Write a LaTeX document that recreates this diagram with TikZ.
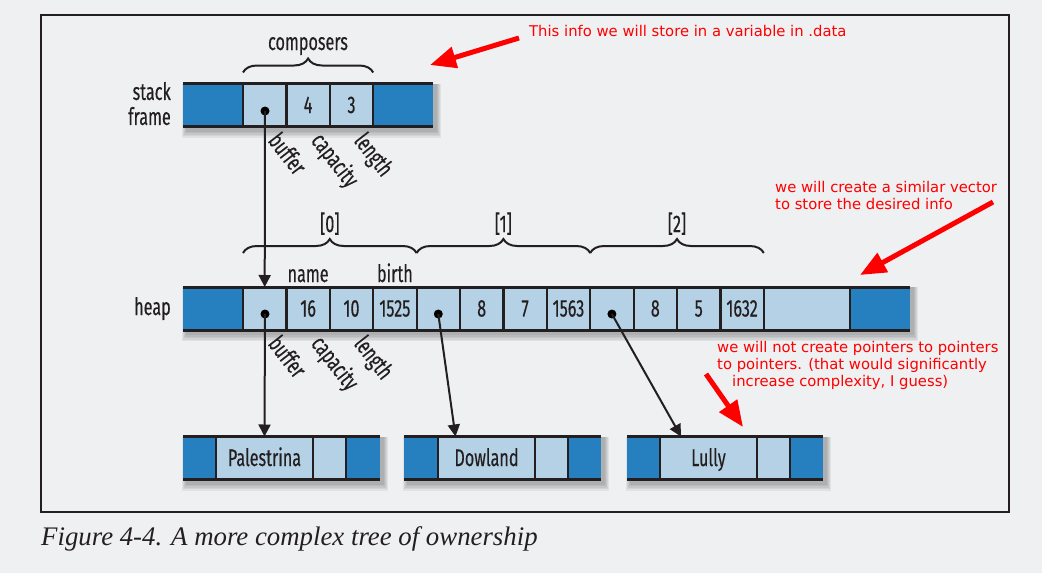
\documentclass[tikz,border=0pt]{standalone}
\usepackage{fontspec}
\usetikzlibrary{arrows.meta,decorations.pathreplacing,calc}
\newfontfamily\dfont[FakeStretch=0.675,FakeBold=0.35]{Fira Sans}
\newfontfamily\nfont{DejaVu Sans}
\newfontfamily\cfont{Liberation Serif}
\definecolor{dkblue}{RGB}{38,128,192}
\definecolor{ltblue}{RGB}{181,209,229}
\definecolor{ink}{RGB}{35,31,32}
\definecolor{bgc}{RGB}{239,240,242}
\definecolor{notered}{RGB}{255,0,0}
\pgfdeclarelayer{back}\pgfdeclarelayer{shade}
\pgfsetlayers{back,shade,main}
\tikzset{
 cellbase/.style={inner sep=0pt, outer sep=0pt, minimum height=43pt, text=ink, text height=16pt, text depth=0pt, font=\dfont\fontsize{24}{24}\selectfont},
 dk/.style={cellbase, fill=dkblue},
 lt/.style={cellbase, fill=ltblue},
 divline/.style={draw=ink, line width=2.2pt},
 edgeline/.style={draw=ink, line width=3pt},
 ptdot/.style={circle, fill=black, minimum size=9pt, inner sep=0pt},
 ptr/.style={draw=ink, line width=2pt, -{Triangle[width=12pt,length=12pt]}},
 brc/.style={draw=ink, line width=2pt, decorate, decoration={brace, amplitude=14pt}},
 lbl/.style={text=ink, font=\dfont\fontsize{24}{25}\selectfont, inner sep=0pt},
 rot/.style={lbl, rotate=-52, anchor=base west},
 notetext/.style={text=notered, font=\nfont\fontsize{14.8}{17}\selectfont, inner sep=0pt, align=left},
 redarrow/.style={draw=notered, line width=5pt, -{Triangle[length=26pt,width=21pt]}},
}
\begin{document}
\begin{tikzpicture}[x=1pt,y=-1pt]
\begin{pgfonlayer}{back}
\fill[bgc] (0,0) rectangle (1042,573);
\end{pgfonlayer}
\useasboundingbox (0,0) rectangle (1042,573);
\draw[ink, line width=1.5pt] (41,15) rectangle (1009,512);

% stack frame row
\node[dk, minimum width=60pt, anchor=west] (sd0) at (183,105) {};
\node[lt, minimum width=43.4pt, anchor=west] (sb) at (sd0.east) {};
\node[lt, minimum width=43.4pt, anchor=west] (scap) at (sb.east) {4};
\node[lt, minimum width=43.4pt, anchor=west] (slen) at (scap.east) {3};
\node[dk, minimum width=60pt, anchor=west] (sd1) at (slen.east) {};
\foreach \n in {sb,scap,slen,sd1} \draw[divline] (\n.north west) -- (\n.south west);
\draw[edgeline] (sd0.north west) -- (sd1.north east);
\draw[edgeline] (sd0.south west) -- (sd1.south east);

% heap row
\node[dk, minimum width=60pt, anchor=west] (hd0) at (183,308.5) {};
\foreach \i/\t in {0/,1/16,2/10,3/1525,4/,5/8,6/7,7/1563,8/,9/8,10/5,11/1632}
  \node[lt, minimum width=43.4pt] (h\i) at ({264.7+43.4*\i},308.5) {\t};
\node[lt, minimum width=86.2pt, anchor=west] (h12) at (h11.east) {};
\node[dk, minimum width=60pt, anchor=west] (hd1) at (h12.east) {};
\foreach \n in {h0,h1,h2,h3,h4,h5,h6,h7,h8,h9,h10,h11,h12,hd1} \draw[divline] (\n.north west) -- (\n.south west);
\draw[edgeline] (hd0.north west) -- (hd1.north east);
\draw[edgeline] (hd0.south west) -- (hd1.south east);

% string rows
\node[dk, minimum width=33pt, anchor=west] (pd0) at (183,458) {};
\node[lt, minimum width=97pt, anchor=west] (pn) at (pd0.east) {Palestrina};
\node[lt, minimum width=33pt, anchor=west] (pl) at (pn.east) {};
\node[dk, minimum width=34pt, anchor=west] (pd1) at (pl.east) {};
\node[dk, minimum width=34pt, anchor=west] (dd0) at (404,458) {};
\node[lt, minimum width=97pt, anchor=west] (dn) at (dd0.east) {Dowland};
\node[lt, minimum width=33pt, anchor=west] (dl) at (dn.east) {};
\node[dk, minimum width=33pt, anchor=west] (dd1) at (dl.east) {};
\node[dk, minimum width=33pt, anchor=west] (ld0) at (627,458) {};
\node[lt, minimum width=97pt, anchor=west] (ln) at (ld0.east) {Lully};
\node[lt, minimum width=33pt, anchor=west] (ll) at (ln.east) {};
\node[dk, minimum width=33pt, anchor=west] (ld1) at (ll.east) {};
\foreach \a/\b/\c/\d in {pd0/pn/pl/pd1, dd0/dn/dl/dd1, ld0/ln/ll/ld1} {
  \foreach \n in {\b,\c,\d} \draw[divline] (\n.north west) -- (\n.south west);
  \draw[edgeline] (\a.north west) -- (\d.north east);
  \draw[edgeline] (\a.south west) -- (\d.south east);
}

% shadows
\begin{pgfonlayer}{shade}
\foreach \a/\b in {sd0/sd1, hd0/hd1, pd0/pd1, dd0/dd1, ld0/ld1} {
  \foreach \k in {0,...,4} {
    \fill[black, opacity=0.06] ([xshift={(3-\k)*1pt}]\a.north west) rectangle ([xshift={(4+\k)*1pt}, yshift={-(5+\k*1.5)*1pt}]\b.south east);
  }
}
\end{pgfonlayer}

% labels
\node[lbl, align=right, anchor=east] (stk) at (171,103.6) {stack\\frame};
\node[lbl, anchor=base east] (hp) at (171,315) {heap};
\draw[brc] ([yshift=11pt]sb.north west) -- ([yshift=11pt]slen.north east);
\node[lbl, anchor=base] (comp) at (308,50) {composers};
\draw[brc] ([yshift=34pt]h0.north west) -- ([yshift=34pt]h3.north east);
\draw[brc] ([yshift=34pt]h4.north west) -- ([yshift=34pt]h7.north east);
\draw[brc] ([yshift=34pt]h8.north west) -- ([yshift=34pt]h11.north east);
\node[lbl, anchor=base] (i0) at (329.8,232) {[0]};
\node[lbl, anchor=base] (i1) at (503.4,232) {[1]};
\node[lbl, anchor=base] (i2) at (677,232) {[2]};
\node[lbl, anchor=base] (nm) at (h1.center |- 0,282) {name};
\node[lbl, anchor=base] (br) at (h3.center |- 0,282) {birth};
\node[rot] (sbuf) at (267,141) {buffer};
\node[rot] (scp) at (310,141) {capacity};
\node[rot] (sln) at (353,141) {length};
\node[rot] (hbuf) at (267,344) {buffer};
\node[rot] (hcp) at (310,344) {capacity};
\node[rot] (hln) at (353,344) {length};

% pointers
\node[ptdot] (sdot) at (265,111) {};
\node[ptdot] (hdot0) at (265,314) {};
\node[ptdot] (hdot1) at (438.3,314) {};
\node[ptdot] (hdot2) at (611.9,314) {};
\draw[ptr] (sdot.center) -- (h0.north);
\draw[ptr] (hdot0.center) -- (pn.north);
\draw[ptr] (hdot1.center) -- ([xshift=-31pt]dn.north);
\draw[ptr] (hdot2.center) -- ([xshift=-27.5pt]ln.north);

% red notes
\node[notetext, anchor=west] (n1) at (529,31) {This info we will store in a variable in .data};
\node[notetext, anchor=west] (n2) at (775,195) {we will create a similar vector\\to store the desired info};
\node[notetext, anchor=west] (n3) at (717,365) {we will not create pointers to pointers\\to pointers. (that would significantly\\\hspace*{15pt}increase complexity, I guess)};
\coordinate (a1s) at (519,38); \coordinate (a1e) at (430,65);
\coordinate (a2s) at (993,202); \coordinate (a2e) at (860,275);
\coordinate (a3s) at (706,374); \coordinate (a3e) at (743,427);
\draw[redarrow] (a1s) -- (a1e);
\draw[redarrow] (a2s) -- (a2e);
\draw[redarrow] (a3s) -- (a3e);

% caption
\node[anchor=base west, inner sep=0pt, text=ink, font=\cfont\itshape\fontsize{26.8}{26.8}\selectfont] (cap) at (41,545) {Figure 4-4. A more complex tree of ownership};
\end{tikzpicture}
\end{document}
